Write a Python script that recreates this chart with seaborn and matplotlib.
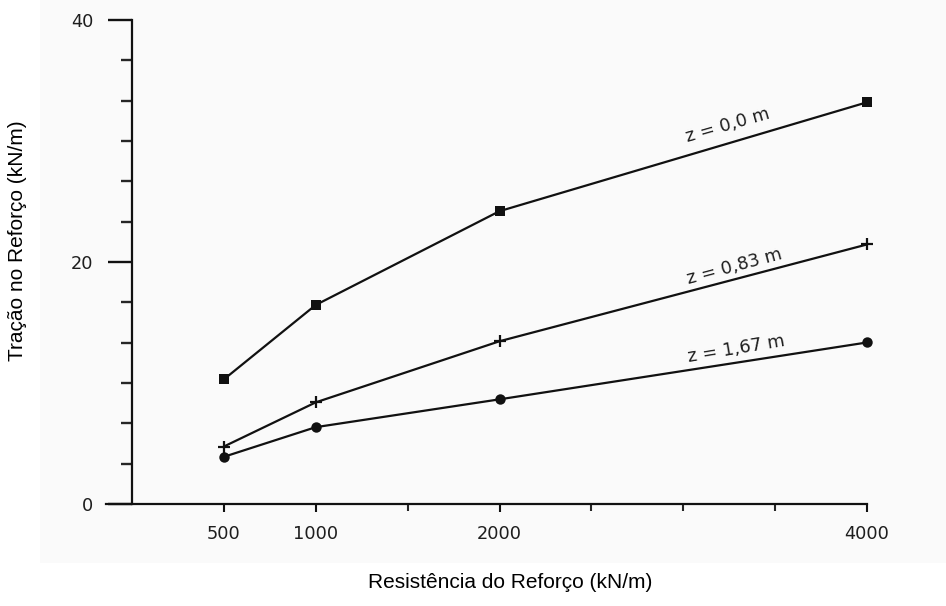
import numpy as np
import pandas as pd
import matplotlib
matplotlib.use("Agg")
import matplotlib.pyplot as plt
from matplotlib.patches import Rectangle
import seaborn as sns

# Reinforcement stiffness (kN/m) and reinforcement tension (kN/m) per depth
resistencia = [500, 1000, 2000, 4000]
tracao_z000 = [10.3, 16.45, 24.2, 33.2]
tracao_z083 = [4.75, 8.4, 13.45, 21.45]
tracao_z167 = [3.9, 6.35, 8.65, 13.35]
profundidades = ["z = 0,0 m", "z = 0,83 m", "z = 1,67 m"]

x_ticks_maiores = [500, 1000, 2000, 4000]
x_ticks_menores = [1500, 2500, 3000, 3500]
y_ticks_maiores = [0, 20, 40]

df = pd.DataFrame({
    "Resistencia": resistencia * 3,
    "Tracao": tracao_z000 + tracao_z083 + tracao_z167,
    "z": [p for p in profundidades for _ in resistencia],
})

sns.set_style("ticks")
plt.rcParams["font.family"] = ["Liberation Sans", "DejaVu Sans"]

W, H = 946, 606
fig = plt.figure(figsize=(W / 100, H / 100), dpi=100)

# faint paper tone behind the drawing area
fig.patches.append(Rectangle((40 / W, (H - 563) / H), (W - 40) / W, 563 / H,
                             transform=fig.transFigure, facecolor="#fafafa",
                             edgecolor="none", zorder=-10))

# axes geometry: x=0 at px 132, x=4000 at px 867; y=0 at px 504, 12.1 px per unit
pxx = 735 / 4000
pxy = 12.1
x0, x1 = -141.5, 4150
y0, y1 = -1.0, 41.0
left = (132 + x0 * pxx) / W
right = (132 + x1 * pxx) / W
bottom = (H - (504 - y0 * pxy)) / H
top = (H - (504 - y1 * pxy)) / H
ax = fig.add_axes([left, bottom, right - left, top - bottom])
ax.set_facecolor("none")

sns.lineplot(
    data=df, x="Resistencia", y="Tracao", hue="z", style="z",
    palette=["#111111"] * 3, markers={"z = 0,0 m": "s", "z = 0,83 m": "P", "z = 1,67 m": "o"},
    dashes=False, linewidth=1.6, markersize=7.5, markeredgewidth=0,
    legend=False, ax=ax, clip_on=False,
)
# thin '+' marker for the middle series
for line in ax.get_lines():
    if line.get_marker() == "P":
        line.set_marker("+")
        line.set_markersize(9)
        line.set_markeredgewidth(1.6)
        line.set_markeredgecolor("#111111")

ax.set_xlim(x0, x1)
ax.set_ylim(y0, y1)

for s in ["top", "right"]:
    ax.spines[s].set_visible(False)
ax.spines["left"].set_position(("data", 0))
ax.spines["bottom"].set_position(("data", 0))
ax.spines["left"].set_bounds(0, 40)
ax.spines["bottom"].set_bounds(x0, 4000)
for s in ["left", "bottom"]:
    ax.spines[s].set_linewidth(1.6)
    ax.spines[s].set_color("#111111")

ax.set_xticks(x_ticks_maiores)
ax.set_xticks(x_ticks_menores, minor=True)
ax.set_yticks(y_ticks_maiores)
ax.set_yticks([i * 20 / 6 for i in range(1, 12) if i != 6], minor=True)
ax.set_xticklabels([str(v) for v in x_ticks_maiores])
ax.set_yticklabels([str(v) for v in y_ticks_maiores])

for lbl in ax.get_xticklabels() + ax.get_yticklabels():
    lbl.set_fontfamily("DejaVu Sans")
    lbl.set_fontsize(12.8)

ax.tick_params(axis="y", which="major", direction="out", length=17, width=1.7, pad=11,
               colors="#111111", labelcolor="#1e1e1e")
ax.tick_params(axis="y", which="minor", direction="out", length=8, width=1.7)
ax.tick_params(axis="x", which="major", direction="out", length=6, width=1.5, pad=9,
               colors="#111111", labelcolor="#1e1e1e")
ax.tick_params(axis="x", which="minor", direction="out", length=5, width=1.5)

ax.set_xlabel("")
ax.set_ylabel("")

# depth labels along each curve
rotulos = [(3243, 31.3, 16), (3276, 19.6, 15), (3287, 12.8, 9.5)]
for texto, (tx, ty, rot) in zip(profundidades, rotulos):
    ax.text(tx, ty, texto, rotation=rot, rotation_mode="anchor", ha="center",
            va="center", fontsize=12.8, family="DejaVu Sans", color="#1e1e1e")

fig.text(18 / W, 1 - 241 / H, "Tração no Reforço (kN/m)", rotation=90,
         ha="center", va="center", fontsize=15, color="black")
fig.text(510 / W, 1 - 583 / H, "Resistência do Reforço (kN/m)",
         ha="center", va="center", fontsize=15, color="black")

fig.savefig("out.png", dpi=100)
